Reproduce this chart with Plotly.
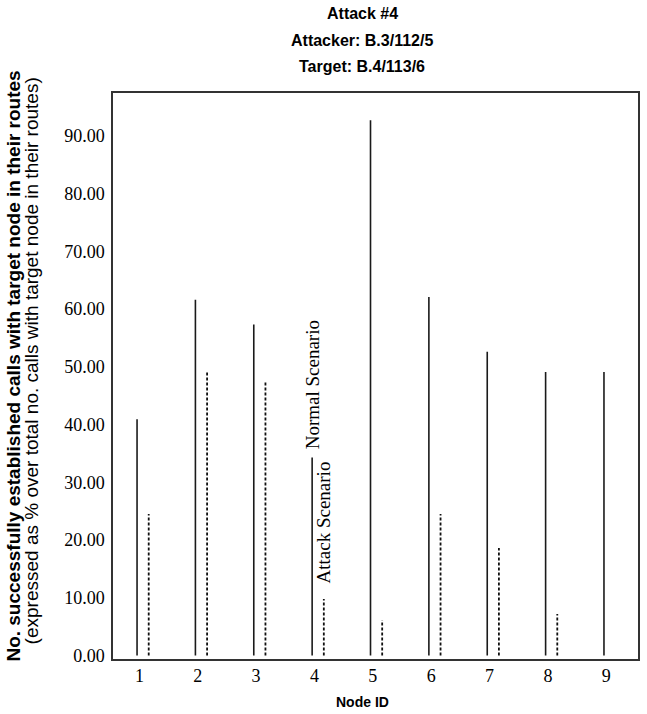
import plotly.graph_objects as go

nodes = [1, 2, 3, 4, 5, 6, 7, 8, 9]
normal = [40.9, 61.6, 57.3, 34.3, 92.7, 62.1, 52.6, 49.1, 49.1]
attack = [24.5, 49.2, 47.6, 9.8, 6.1, 24.5, 18.6, 7.2, 0.0]
y_ticks = [0, 10, 20, 30, 40, 50, 60, 70, 80, 90]

NORMAL_OFF = -0.04
ATTACK_OFF = 0.16


def stems(xs, ys, off):
    X, Y = [], []
    for x, y in zip(xs, ys):
        if y <= 0:
            continue
        X += [x + off, x + off, None]
        Y += [0, y, None]
    return X, Y


fig = go.Figure()
xn, yn = stems(nodes, normal, NORMAL_OFF)
xa, ya = stems(nodes, attack, ATTACK_OFF)
fig.add_trace(go.Scatter(x=xn, y=yn, mode="lines", name="Normal Scenario",
                         line=dict(color="#1a1a1a", width=1.6), hoverinfo="skip"))
fig.add_trace(go.Scatter(x=xa, y=ya, mode="lines", name="Attack Scenario",
                         line=dict(color="#111111", width=1.8, dash="3px,2px"), hoverinfo="skip"))

serif = "Liberation Serif, Times New Roman, serif"
sans = "Liberation Sans, Arial, sans-serif"

fig.update_layout(
    width=647, height=714,
    margin=dict(l=113, r=9, t=93, b=55),
    paper_bgcolor="white", plot_bgcolor="white",
    showlegend=False,
    font=dict(family=serif, color="black"),
)
fig.update_xaxes(range=[0.548, 9.543], tickvals=nodes, ticktext=[str(n) for n in nodes],
                 showgrid=False, zeroline=False, showline=True, mirror=True,
                 linecolor="#333", linewidth=1.5, ticks="",
                 automargin=False,
                 tickfont=dict(family=serif, size=18, color="black"))
fig.update_yaxes(range=[-0.6, 97.4], tickvals=y_ticks, ticktext=[f"{v:.2f}" for v in y_ticks],
                 showgrid=False, zeroline=False, showline=True, mirror=True,
                 linecolor="#333", linewidth=1.5, ticks="", ticklabelstandoff=3,
                 automargin=False,
                 tickfont=dict(family=serif, size=18, color="black"))

ann = [
    dict(text="<b>Attack #4</b>", y=1.1396),
    dict(text="<b>Attacker: B.3/112/5</b>", y=1.0936),
    dict(text="<b>Target: B.4/113/6</b>", y=1.0477),
]
for a in ann:
    fig.add_annotation(xref="paper", yref="paper", x=0.4745, y=a["y"], text=a["text"],
                       showarrow=False, xanchor="center", yanchor="middle",
                       font=dict(family=sans, size=16, color="black"))

fig.add_annotation(xref="paper", yref="paper", x=0.4745, y=-0.076, text="<b>Node ID</b>",
                   showarrow=False, xanchor="center", yanchor="middle",
                   font=dict(family=sans, size=14, color="black"))

fig.add_annotation(xref="paper", yref="paper", x=-0.189, y=0.518, textangle=-90,
                   text="<b>No. successfully established calls with target node in their routes</b>",
                   showarrow=False, xanchor="center", yanchor="middle",
                   font=dict(family=sans, size=19, color="black"))
fig.add_annotation(xref="paper", yref="paper", x=-0.156, y=0.526, textangle=-90,
                   text="(expressed as % over total no. calls with target node in their routes)",
                   showarrow=False, xanchor="center", yanchor="middle",
                   font=dict(family=sans, size=19, color="black"))

fig.add_annotation(x=nodes[3] + NORMAL_OFF, y=normal[3] + 1.0, text="Normal Scenario",
                   textangle=-90, showarrow=False, xanchor="center", yanchor="bottom",
                   font=dict(family=serif, size=19, color="black"))
fig.add_annotation(x=nodes[3] + ATTACK_OFF, y=attack[3] + 2.3, text="Attack Scenario",
                   textangle=-90, showarrow=False, xanchor="center", yanchor="bottom",
                   font=dict(family=serif, size=19, color="black"))

fig.write_html("out.html")
